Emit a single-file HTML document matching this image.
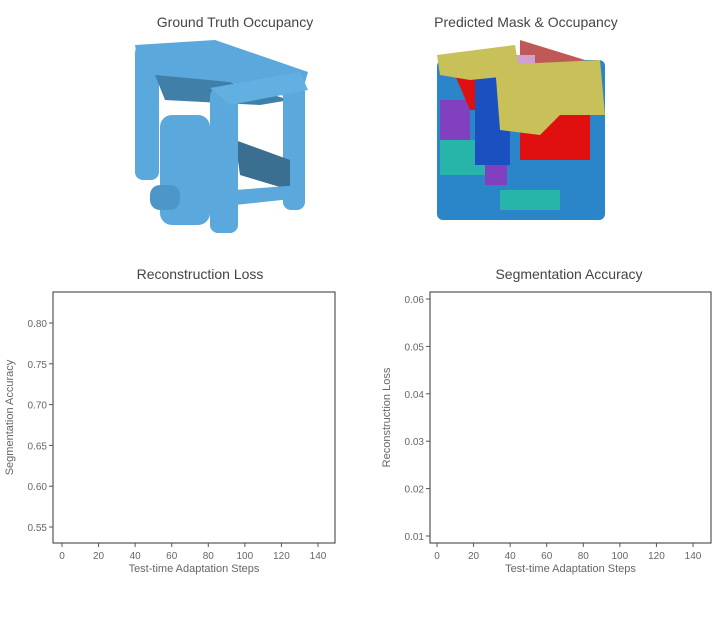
<!DOCTYPE html>
<html><head><meta charset="utf-8"><style>
body{margin:0;background:#fff;width:720px;height:634px;overflow:hidden;font-family:"Liberation Sans",sans-serif}
svg text{font-family:"Liberation Sans",sans-serif}
</style></head><body>
<svg id="fig" width="720" height="634">
<text x="235" y="27" text-anchor="middle" font-size="14" fill="#444">Ground Truth Occupancy</text>
<text x="526" y="27" text-anchor="middle" font-size="14" fill="#444">Predicted Mask &amp; Occupancy</text>
<g>
 <rect x="135" y="45" width="24" height="135" rx="8" fill="#5aa8dc"/>
 <polygon points="135,45 215,40 308,72 300,100 230,82 140,75" fill="#5aa8dc"/>
 <polygon points="155,75 230,82 290,100 260,105 165,100" fill="#3f7fa8"/>
 <rect x="283" y="70" width="22" height="140" rx="8" fill="#5aa8dc"/>
 <polygon points="235,140 290,160 290,190 240,175" fill="#3b6f92"/>
 <rect x="160" y="115" width="50" height="110" rx="12" fill="#5aa8dc"/>
 <rect x="150" y="185" width="30" height="25" rx="10" fill="#4d97c8"/>
 <rect x="210" y="88" width="28" height="145" rx="8" fill="#5aa8dc"/>
 <polygon points="210,88 300,72 308,90 230,105" fill="#62b0e2"/>
 <polygon points="235,190 300,185 300,198 235,205" fill="#5aa8dc"/>
</g>
<g>
 <rect x="437" y="60" width="168" height="160" rx="6" fill="#2a86c8"/>
 <rect x="440" y="140" width="45" height="35" fill="#26b5a8"/>
 <rect x="500" y="190" width="60" height="20" fill="#26b5a8"/>
 <rect x="440" y="100" width="30" height="40" fill="#8040c0"/>
 <rect x="485" y="130" width="22" height="55" fill="#8040c0"/>
 <polygon points="455,75 490,70 500,110 470,110" fill="#e01010"/>
 <rect x="475" y="75" width="35" height="90" fill="#1a50c0"/>
 <polygon points="520,40 585,60 555,70 520,65" fill="#c05858"/>
 <rect x="510" y="55" width="25" height="25" fill="#d0a0d0"/>
 <rect x="500" y="90" width="12" height="8" fill="#20c020"/>
 <rect x="520" y="115" width="70" height="45" fill="#e01010"/>
 <polygon points="437,55 515,45 520,75 470,80 440,75" fill="#c8c058"/>
 <polygon points="495,65 600,60 605,115 560,115 540,135 500,130" fill="#c8c058"/>
</g>
<text x="200" y="279" text-anchor="middle" font-size="14" fill="#444">Reconstruction Loss</text>
<text x="569" y="279" text-anchor="middle" font-size="14" fill="#444">Segmentation Accuracy</text>
<g id="c1"></g>
<g id="c2"></g>
</svg>
<script>
const xTicks=[0,20,40,60,80,100,120,140];
const leftYTicks=[0.55,0.60,0.65,0.70,0.75,0.80];
const rightYTicks=[0.01,0.02,0.03,0.04,0.05,0.06];
const leftSeries=[];
const rightSeries=[];
const NS="http://www.w3.org/2000/svg";
function mk(p,t,a){const e=document.createElementNS(NS,t);for(const k in a)e.setAttribute(k,a[k]);p.appendChild(e);return e;}
function chart(g,box,xs,ys,yDom,yT,yLabel,series,dec){
 const xS=v=>xs[0]+(v-0)/140*(xs[1]-xs[0]);
 const yS=v=>ys[0]+(v-yDom[0])/(yDom[1]-yDom[0])*(ys[1]-ys[0]);
 const r=mk(g,'rect',{x:box[0],y:box[1],width:box[2]-box[0],height:box[3]-box[1],fill:'none',stroke:'#333','stroke-width':1});
 
 
 xTicks.forEach(t=>{const x=xS(t);
  const l=mk(g,'line',{x1:x,x2:x,y1:box[3],y2:box[3]+4,stroke:'#555'});
  
  
  const tx=mk(g,'text',{x:x,y:box[3]+16,'text-anchor':'middle','font-size':10,fill:'#666'});tx.textContent=t;
  
  });
 yT.forEach(t=>{const y=yS(t);
  const l=mk(g,'line',{x1:box[0]-4,x2:box[0],y1:y,y2:y,stroke:'#555'});
  
  
  const tx=mk(g,'text',{x:box[0]-6,y:y+4,'text-anchor':'end','font-size':10,fill:'#666'});tx.textContent=t.toFixed(2);
  
  });
 const xl=mk(g,'text',{x:(box[0]+box[2])/2,y:box[3]+29,'text-anchor':'middle','font-size':11,fill:'#666'});xl.textContent='Test-time Adaptation Steps';
 
 
 const cy=(box[1]+box[3])/2,cx=box[0]-40;
 const yl=mk(g,'text',{x:cx,y:cy,'text-anchor':'middle','font-size':11,fill:'#666',transform:`rotate(-90 ${cx} ${cy})`});yl.textContent=yLabel;
 
 
 if(series.length){const p=mk(g,'path',{d:series.map((v,i)=>(i?'L':'M')+xS(i)+','+yS(v)).join(''),fill:'none',stroke:'#1f77b4'});
  
  }
}
chart(document.getElementById('c1'),[53,292,335,543],[62,318],[527,323],[0.55,0.80],leftYTicks,'Segmentation Accuracy',leftSeries);
chart(document.getElementById('c2'),[430,292,711,543],[437,693],[536,299],[0.01,0.06],rightYTicks,'Reconstruction Loss',rightSeries);
</script>
</body></html>
